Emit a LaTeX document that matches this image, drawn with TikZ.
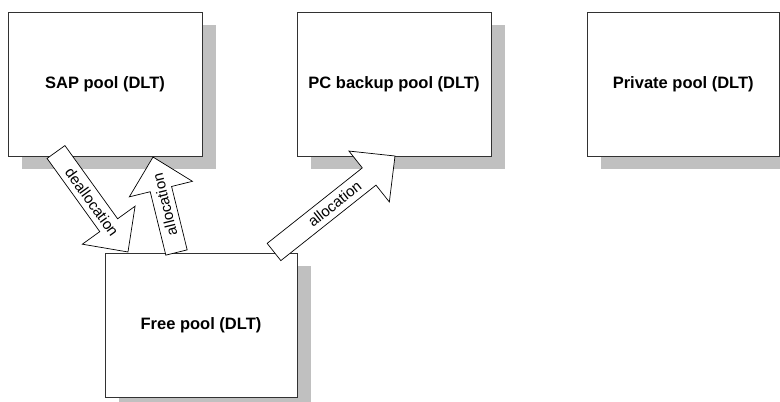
\documentclass[tikz,border=0pt]{standalone}
\usepackage{fontspec}
\setmainfont{Liberation Sans}
\usetikzlibrary{calc,shadows}
\definecolor{shadowgray}{RGB}{192,192,192}
\definecolor{boxline}{RGB}{50,50,50}
\tikzset{
  poolbox/.style={draw=boxline, line width=0.9pt, fill=white,
    minimum width=194pt, minimum height=144pt, inner sep=0pt,
    font=\fontsize{16.5}{18}\selectfont\bfseries,
    drop shadow={shadow xshift=14pt, shadow yshift=-13pt, fill=shadowgray, opacity=1, draw=none}},
  arrowline/.style={draw=black, line width=0.7pt, fill=white, line join=miter},
  arrowtext/.style={font=\fontsize{15}{17}\selectfont, inner sep=0pt}
}
\newcommand\bsw{11}
\newcommand\bhw{32.5}
\newcommand\bhl{33}
\newcommand\blockarrow[3]{%
  \pgfpointanchor{#1}{center}\pgfgetlastxy\bax\bay
  \pgfpointanchor{#2}{center}\pgfgetlastxy\bbx\bby
  \pgfmathsetmacro\bang{atan2(\bby-\bay,\bbx-\bax)}%
  \pgfmathsetmacro\blen{veclen(\bbx-\bax,\bby-\bay)}%
  \begin{scope}[shift={(#1)}, rotate=\bang]
    \draw[arrowline] (0,-\bsw) -- (\blen-\bhl,-\bsw) -- (\blen-\bhl,-\bhw)
      -- (\blen,0) -- (\blen-\bhl,\bhw) -- (\blen-\bhl,\bsw) -- (0,\bsw) -- cycle;
    \node[arrowtext, rotate=\bang] at (\blen*0.5,0) {#3};
  \end{scope}}
\begin{document}
\begin{tikzpicture}[x=1pt,y=1pt]
  \clip (0,0) rectangle (780,-402);
  \fill[white] (0,0) rectangle (780,-402);
  \node[poolbox] (sap) at (105,-84) {SAP pool (DLT)};
  \node[poolbox] (pc) at (394,-84) {PC backup pool (DLT)};
  \node[poolbox, minimum width=192.5pt] (priv) at (683.25,-84) {Private pool (DLT)};
  \node[poolbox, minimum width=192pt] (free) at (201,-325) {Free pool (DLT)};
  \coordinate (deT) at (56,-152);
  \coordinate (deH) at (128,-252);
  \coordinate (alT) at (176.5,-252.5);
  \coordinate (alH) at (153,-157);
  \coordinate (pcT) at (274,-252);
  \coordinate (pcH) at (395,-156);
  \blockarrow{deT}{deH}{deallocation}
  \blockarrow{alT}{alH}{allocation}
  \blockarrow{pcT}{pcH}{allocation}
\end{tikzpicture}
\end{document}
